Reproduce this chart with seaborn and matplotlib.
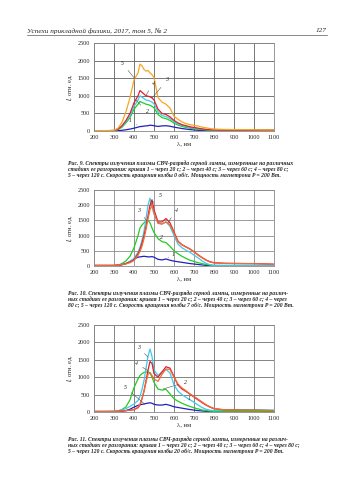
import matplotlib
matplotlib.use("Agg")
import matplotlib.pyplot as plt
import numpy as np
import pandas as pd
import seaborn as sns

# wavelength grid, nm
wl = [200, 250, 300, 320, 340, 360, 380, 400, 420, 430, 440, 450, 460, 470, 480, 490, 500,
      520, 540, 560, 580, 600, 620, 640, 660, 680, 700, 720, 740, 760, 780, 800,
      850, 900, 950, 1000, 1050, 1100]

# Fig. 9 (0 rev/s)
f9_c1 = [5, 5, 5, 10, 20, 35, 55, 80, 110, 125, 130, 140, 145, 150, 165, 160, 150,
         130, 145, 150, 135, 110, 90, 70, 55, 40, 30, 20, 15, 10, 8, 5, 5, 5, 5, 5, 5, 5]
f9_c2 = [5, 5, 10, 40, 110, 230, 380, 620, 760, 840, 810, 790, 760, 750, 730, 700, 660,
         470, 380, 350, 300, 220, 170, 130, 100, 80, 65, 50, 40, 30, 25, 20, 20, 20, 20, 20, 20, 20]
f9_c3 = [5, 5, 15, 45, 130, 260, 430, 700, 880, 1000, 960, 920, 880, 870, 850, 820, 770,
         550, 440, 410, 350, 260, 200, 160, 130, 100, 85, 70, 55, 40, 30, 25, 25, 25, 25, 25, 25, 25]
f9_c4 = [5, 5, 15, 50, 150, 300, 500, 800, 1000, 1150, 1100, 1050, 1000, 990, 970, 940, 880,
         620, 500, 470, 400, 300, 230, 180, 150, 120, 100, 80, 60, 45, 35, 30, 25, 25, 25, 20, 20, 20]
f9_c5 = [10, 10, 20, 80, 250, 550, 950, 1450, 1650, 1900, 1850, 1750, 1700, 1720, 1650, 1600, 1520,
         950, 820, 760, 650, 420, 330, 260, 210, 180, 160, 140, 110, 90, 70, 55, 45, 40, 40, 35, 30, 30]

# Fig. 10 (7 rev/s)
f10_c1 = [5, 5, 10, 20, 40, 80, 150, 230, 290, 300, 310, 320, 310, 300, 300, 310, 290,
          220, 200, 230, 190, 160, 140, 120, 100, 80, 65, 50, 35, 20, 10, 5, 5, 5, 5, 5, 5, 5]
f10_c2 = [10, 10, 15, 30, 80, 170, 320, 600, 1000, 1250, 1350, 1420, 1480, 1510, 1420, 1250, 1100,
          900, 800, 770, 650, 500, 400, 320, 250, 190, 150, 110, 80, 50, 30, 20, 15, 15, 15, 15, 15, 15]
f10_c3 = [20, 20, 20, 30, 50, 90, 150, 250, 450, 620, 850, 1150, 1550, 2000, 2230, 1950, 1700,
          1420, 1380, 1450, 1300, 1000, 720, 600, 520, 450, 360, 270, 170, 90, 40, 20, 20, 20, 20, 20, 20, 20]
f10_c4 = [20, 20, 20, 30, 50, 80, 130, 200, 400, 550, 750, 1000, 1300, 1650, 2000, 2180, 1850,
          1450, 1450, 1560, 1420, 1120, 820, 700, 630, 560, 470, 370, 280, 200, 140, 110, 90, 85, 80, 80, 70, 60]
f10_c5 = [20, 20, 20, 30, 45, 70, 110, 180, 350, 480, 650, 900, 1200, 1550, 1850, 2000, 1750,
          1400, 1380, 1450, 1350, 1080, 800, 690, 620, 550, 460, 360, 270, 190, 130, 100, 85, 80, 80, 75, 65, 55]

# Fig. 11 (20 rev/s)
f11_c1 = [5, 5, 10, 15, 25, 40, 80, 140, 190, 210, 220, 230, 245, 255, 265, 250, 220,
          200, 200, 220, 190, 150, 130, 110, 90, 70, 55, 40, 30, 20, 10, 5, 5, 5, 5, 5, 5, 5]
f11_c2 = [10, 10, 15, 30, 70, 150, 350, 700, 950, 1050, 1100, 1140, 1150, 1150, 1130, 1000, 850,
          660, 630, 650, 520, 380, 310, 250, 200, 160, 120, 90, 60, 40, 25, 15, 15, 15, 15, 15, 15, 15]
f11_c3 = [20, 20, 25, 35, 60, 100, 160, 230, 330, 450, 650, 900, 1250, 1600, 1810, 1600, 1200,
          1050, 1150, 1220, 1120, 780, 600, 500, 420, 350, 280, 200, 130, 80, 50, 40, 50, 60, 65, 65, 60, 55]
f11_c4 = [15, 15, 15, 20, 30, 40, 50, 70, 120, 200, 380, 600, 900, 1200, 1450, 1400, 1100,
          1000, 1150, 1300, 1260, 1020, 770, 660, 590, 510, 430, 350, 270, 200, 140, 95, 60, 55, 50, 50, 45, 40]
f11_c5 = [15, 15, 15, 20, 30, 40, 50, 70, 140, 230, 380, 600, 850, 1080, 1130, 1050, 950,
          880, 1080, 1240, 1220, 1000, 800, 690, 610, 520, 450, 370, 290, 210, 150, 100, 65, 55, 50, 50, 45, 40]

xticks = list(range(200, 1101, 100))
yticks = list(range(0, 2501, 500))

captions = [
    ["Рис. 9. Спектры излучения плазмы СВЧ-разряда серной лампы, измеренные на различных",
     "стадиях ее разгорания: кривая 1 – через 20 с; 2 – через 40 с; 3 – через 60 с; 4 – через 80 с;",
     "5 – через 120 с. Скорость вращения колбы 0 об/с. Мощность магнетрона P = 200 Вт."],
    ["Рис. 10. Спектры излучения плазмы СВЧ-разряда серной лампы, измеренные на различ-",
     "ных стадиях ее разгорания: кривая 1 – через 20 с; 2 – через 40 с; 3 – через 60 с; 4 – через",
     "80 с; 5 – через 120 с. Скорость вращения колбы 7 об/с. Мощность магнетрона P = 200 Вт."],
    ["Рис. 11. Спектры излучения плазмы СВЧ-разряда серной лампы, измеренные на различ-",
     "ных стадиях ее разгорания: кривая 1 – через 20 с; 2 – через 40 с; 3 – через 60 с; 4 – через 80 с;",
     "5 – через 120 с. Скорость вращения колбы 20 об/с. Мощность магнетрона P = 200 Вт."],
]

sns.set_style("white")
plt.rcParams['font.family'] = ['Liberation Serif', 'DejaVu Serif']

fig = plt.figure(figsize=(3.5, 4.95), dpi=100)

# header
fig.text(27 / 350, 1 - 31 / 495, "Успехи прикладной физики, 2017, том 5, № 2",
         fontsize=5.2, style="italic", va="center")
fig.text(327 / 350, 1 - 31 / 495, "127", fontsize=5.2, style="italic", va="center", ha="right")
fig.add_artist(plt.Line2D([27 / 350, 327 / 350], [1 - 35 / 495, 1 - 35 / 495],
                          color="#888888", lw=0.7))

pal_a = ["#2020c0", "#22cc22", "#40c8ea", "#e02028", "#f5a623"]
pal_b = ["#2020c0", "#22cc22", "#40c8ea", "#e02028", "#f26a3a"]

charts = [
    dict(curves=[f9_c1, f9_c2, f9_c3, f9_c4, f9_c5], pal=pal_a, top=43, bot=131, grid="#606060",
         labels=[("1", (380, 310), (415, 170)), ("2", (465, 540), (410, 880)),
                 ("3", (565, 1450), (490, 930)), ("4", (495, 1360), (460, 1010)),
                 ("5", (340, 1930), (405, 1480))], cap_y=163),
    dict(curves=[f10_c1, f10_c2, f10_c3, f10_c4, f10_c5], pal=pal_b, top=190, bot=266, grid="#8a8a8a",
         labels=[("1", (597, 385), (570, 280)), ("2", (535, 930), (525, 880)),
                 ("3", (421, 1840), (465, 1480)), ("4", (610, 1840), (570, 1420)),
                 ("5", (530, 2335), (482, 2000))], cap_y=293),
    dict(curves=[f11_c1, f11_c2, f11_c3, f11_c4, f11_c5], pal=pal_b, top=325, bot=412, grid="#707070",
         labels=[("1", (675, 393), (650, 320)), ("2", (658, 853), (545, 660)),
                 ("3", (421, 1860), (470, 1580)), ("4", (410, 1400), (472, 1180)),
                 ("5", (355, 710), (455, 220))], cap_y=439),
]

for n, ch in enumerate(charts):
    ax = fig.add_axes([94 / 350, 1 - ch["bot"] / 495, 180 / 350, (ch["bot"] - ch["top"]) / 495])
    df = pd.concat([pd.DataFrame({"wl": wl, "I": c, "curve": str(i + 1)})
                    for i, c in enumerate(ch["curves"])])
    sns.lineplot(data=df, x="wl", y="I", hue="curve", palette=ch["pal"], legend=False,
                 linewidth=0.9, ax=ax)
    ax.set_xlim(200, 1100)
    ax.set_ylim(0, 2500)
    ax.set_xticks(xticks)
    ax.set_yticks(yticks)
    ax.tick_params(axis="both", labelsize=4.4, length=1.5, width=0.4, pad=1.5)
    ax.grid(True, color=ch["grid"], linewidth=0.6)
    for s in ax.spines.values():
        s.set_color("#888888")
        s.set_linewidth(0.6)
    ax.set_xlabel("λ, нм", fontsize=4.8, labelpad=1)
    ax.set_ylabel("$I$, отн. ед.", fontsize=4.8, labelpad=2)
    for txt, pos, tip in ch["labels"]:
        ax.annotate(txt, xy=tip, xytext=pos, fontsize=4.2, style="italic", ha="center", va="center",
                    arrowprops=dict(arrowstyle="-", color="#555555", lw=0.4, shrinkA=1.5, shrinkB=0))
    for k, line in enumerate(captions[n]):
        fig.text(68 / 350, 1 - (ch["cap_y"] + 6 * k) / 495, line, fontsize=4.1,
                 style="italic", weight="bold", va="center")

fig.savefig("out.png", dpi=100)
